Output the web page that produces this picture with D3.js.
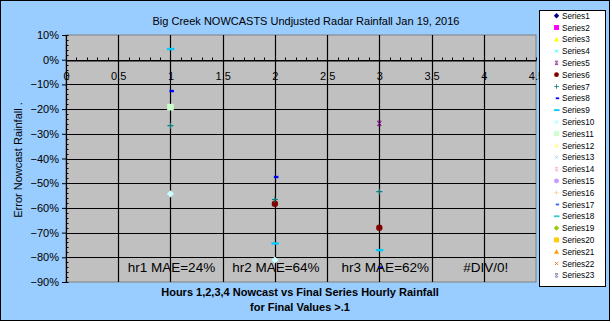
<!DOCTYPE html>
<html>
<head>
<meta charset="utf-8">
<script src="https://cdn.jsdelivr.net/npm/d3@7"></script>
<style>
  html, body { margin: 0; padding: 0; background: #ffffff; }
  svg { display: block; font-family: Arial, "Liberation Sans", sans-serif; }
</style>
</head>
<body>
<svg id="chart" width="612" height="323"></svg>
<script>
// Nowcast hour positions on the x axis
const hours = [1, 2, 3, 4];

// Error of nowcast vs final hourly rainfall, one value per hour (null = no point)
const series5  = [null, null, -0.258, null];
const series6  = [null, -0.583, -0.680, null];
const series7  = [-0.267, -0.566, -0.534, null];
const series8  = [-0.127, -0.475, -0.842, null];
const series9  = [0.043, -0.744, -0.771, null];
const series10 = [-0.543, -0.811, null, null];
const series11 = [-0.192, null, null, null];

// Mean absolute error per hour, shown as text in the plot
const maeLabels = ["hr1 MAE=24%", "hr2 MAE=64%", "hr3 MAE=62%", "#DIV/0!"];

const seriesNames = d3.range(1, 24).map(i => "Series" + i);
const xTicks = [0, 0.5, 1, 1.5, 2, 2.5, 3, 3.5, 4, 4.5];
const yTicks = [0.1, 0, -0.1, -0.2, -0.3, -0.4, -0.5, -0.6, -0.7, -0.8, -0.9];

const valuesByName = {
  Series5: series5, Series6: series6, Series7: series7, Series8: series8,
  Series9: series9, Series10: series10, Series11: series11
};

// Excel-style marker styles per series
const markerStyle = [
  {shape: "diamond", color: "#000080"},
  {shape: "square",  color: "#FF00FF"},
  {shape: "triangle",color: "#FFFF00"},
  {shape: "x",       color: "#00FFFF"},
  {shape: "star",    color: "#800080"},
  {shape: "circle",  color: "#800000"},
  {shape: "plus",    color: "#008080"},
  {shape: "dash",    color: "#0000FF"},
  {shape: "ldash",   color: "#00CCFF"},
  {shape: "diamond", color: "#CCFFFF"},
  {shape: "square",  color: "#CCFFCC"},
  {shape: "triangle",color: "#FFFF99"},
  {shape: "x",       color: "#99CCFF"},
  {shape: "star",    color: "#FF99CC"},
  {shape: "circle",  color: "#CC99FF"},
  {shape: "plus",    color: "#FFCC99"},
  {shape: "dash",    color: "#3366FF"},
  {shape: "ldash",   color: "#33CCCC"},
  {shape: "diamond", color: "#99CC00"},
  {shape: "square",  color: "#FFCC00"},
  {shape: "triangle",color: "#FF9900"},
  {shape: "x",       color: "#FF6600"},
  {shape: "star",    color: "#666699"}
];

const svg = d3.select("#chart");

// chart background and frame
svg.append("rect").attr("x", 0.5).attr("y", 0.5).attr("width", 609).attr("height", 320)
  .attr("fill", "#99CCFF").attr("stroke", "#000").attr("stroke-width", 1);

const x = d3.scaleLinear().domain([0, 4.5]).range([66, 536]);
const y = d3.scaleLinear().domain([-0.9, 0.1]).range([282, 35]);

// plot area
svg.append("rect").attr("x", x(0)).attr("y", y(0.1))
  .attr("width", x(4.5) - x(0)).attr("height", y(-0.9) - y(0.1))
  .attr("fill", "#C0C0C0").attr("stroke", "#808080").attr("stroke-width", 1);

// gridlines
const grid = svg.append("g").attr("stroke", "#000").attr("stroke-width", 1.2);
yTicks.filter(v => v > -0.9 && v < 0.1).forEach(v => {
  grid.append("line").attr("x1", x(0)).attr("x2", x(4.5))
    .attr("y1", Math.round(y(v)) + 0.5).attr("y2", Math.round(y(v)) + 0.5);
});
xTicks.filter(v => v > 0 && v < 4.5).forEach(v => {
  grid.append("line").attr("y1", y(0.1)).attr("y2", y(-0.9))
    .attr("x1", Math.round(x(v)) + 0.5).attr("x2", Math.round(x(v)) + 0.5);
});

// y axis: major ticks outside, minor ticks inside
const yAxis = d3.axisLeft(y).tickValues(yTicks).tickSize(4).tickFormat(d3.format(".0%"));
const yG = svg.append("g").attr("transform", `translate(${x(0)},0)`).call(yAxis);
yG.select(".domain").attr("stroke", "#000").attr("stroke-width", 1.2);
yG.selectAll(".tick line").attr("stroke", "#000");
yG.selectAll(".tick text").attr("font-size", 11).attr("fill", "#000")
  .attr("font-family", "Arial, 'Liberation Sans', sans-serif").attr("x", -7);
const yMinor = d3.range(-0.9, 0.1001, 0.02);
svg.append("g").selectAll("line").data(yMinor).join("line")
  .attr("x1", x(0)).attr("x2", x(0) + 2.5)
  .attr("y1", d => Math.round(y(d)) + 0.5).attr("y2", d => Math.round(y(d)) + 0.5)
  .attr("stroke", "#000");

// x axis along 0%
const xAxis = d3.axisBottom(x).tickValues(xTicks).tickSize(0).tickFormat(d => String(d));
const xG = svg.append("g").attr("transform", `translate(0,${Math.round(y(0)) + 0.5})`).call(xAxis);
xG.select(".domain").attr("stroke", "#000").attr("stroke-width", 1.2);
xG.selectAll(".tick text").attr("font-size", 11).attr("fill", "#000")
  .attr("font-family", "Arial, 'Liberation Sans', sans-serif").attr("dy", "1.05em").attr("y", 8);
const xMinor = d3.range(0, 4.5001, 0.1);
svg.append("g").selectAll("line").data(xMinor).join("line")
  .attr("x1", d => Math.round(x(d)) + 0.5).attr("x2", d => Math.round(x(d)) + 0.5)
  .attr("y1", Math.round(y(0)) + 0.5).attr("y2", Math.round(y(0)) - 2.5)
  .attr("stroke", "#000");

// marker drawing; k scales the marker size
function drawMarker(g, shape, color, cx, cy, k) {
  const m = g.append("g").attr("transform", `translate(${cx},${cy}) scale(${k})`);
  switch (shape) {
    case "diamond":
      m.append("path").attr("d", "M0,-3.6L3.6,0L0,3.6L-3.6,0Z").attr("fill", color); break;
    case "square":
      m.append("rect").attr("x", -3.3).attr("y", -3.3).attr("width", 6.6).attr("height", 6.6).attr("fill", color); break;
    case "triangle":
      m.append("path").attr("d", "M0,-3.3L3.3,2.8L-3.3,2.8Z").attr("fill", color); break;
    case "x":
      m.append("path").attr("d", "M-2,-2L2,2M-2,2L2,-2").attr("stroke", color).attr("stroke-width", 1.1); break;
    case "star":
      m.append("path").attr("d", "M-1.8,-1.8L1.8,1.8M-1.8,1.8L1.8,-1.8M-2,-2.3H2M-2,2.3H2")
        .attr("stroke", color).attr("stroke-width", 1); break;
    case "circle":
      m.append("circle").attr("r", 3.2).attr("fill", color); break;
    case "plus":
      m.append("path").attr("d", "M-3,0H3M0,-3V3").attr("stroke", color).attr("stroke-width", 1.1); break;
    case "dash":
      m.append("rect").attr("x", -1).attr("y", -1.2).attr("width", 4.5).attr("height", 2.4).attr("fill", color); break;
    case "ldash":
      m.append("rect").attr("x", -3.5).attr("y", -1.2).attr("width", 7.5).attr("height", 2.4).attr("fill", color); break;
  }
}

// data points
const pts = svg.append("g");
seriesNames.forEach((name, i) => {
  const vals = valuesByName[name];
  if (!vals) return;
  vals.forEach((v, j) => {
    if (v === null) return;
    drawMarker(pts, markerStyle[i].shape, markerStyle[i].color, x(hours[j]), y(v), 1);
  });
});

// MAE annotations
const maeDx = [1, 1, 6, 2];
svg.append("g").selectAll("text").data(maeLabels).join("text")
  .attr("x", (d, i) => x(hours[i]) + maeDx[i])
  .attr("y", 272)
  .attr("text-anchor", "middle").attr("font-size", 13.5).attr("fill", "#000")
  .text(d => d);

// title
svg.append("text").attr("x", 306).attr("y", 25).attr("text-anchor", "middle")
  .attr("font-size", 11).attr("fill", "#000")
  .text("Big Creek NOWCASTS Undjusted Radar Rainfall Jan 19, 2016");

// axis titles
svg.append("text").attr("transform", "translate(22,160) rotate(-90)")
  .attr("text-anchor", "middle").attr("font-size", 11).attr("fill", "#000")
  .text("Error Nowcast Rainfall .");
svg.append("text").attr("x", 300).attr("y", 296).attr("text-anchor", "middle")
  .attr("font-size", 11).attr("font-weight", "bold").attr("fill", "#000")
  .text("Hours 1,2,3,4 Nowcast vs Final Series Hourly Rainfall");
svg.append("text").attr("x", 300).attr("y", 311).attr("text-anchor", "middle")
  .attr("font-size", 11).attr("font-weight", "bold").attr("fill", "#000")
  .text("for Final Values >.1");

// legend
const lg = svg.append("g");
lg.append("rect").attr("x", 539.5).attr("y", 10.5).attr("width", 66).attr("height", 276)
  .attr("fill", "#fff").attr("stroke", "#000").attr("stroke-width", 1);
seriesNames.forEach((name, i) => {
  const ly = 15.7 + i * 11.8;
  drawMarker(lg, markerStyle[i].shape, markerStyle[i].color, 556.5, ly, 0.75);
  lg.append("text").attr("x", 562).attr("y", ly + 3).attr("font-size", 8.2)
    .attr("fill", "#000").text(name);
});
</script>
</body>
</html>
